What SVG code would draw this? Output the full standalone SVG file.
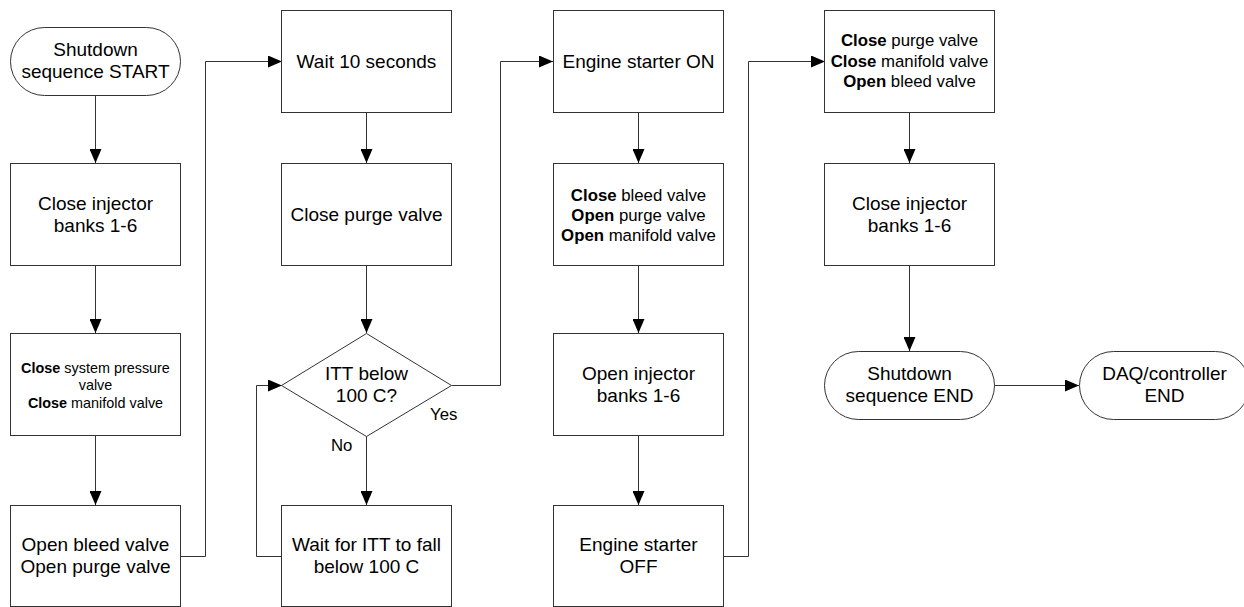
<svg xmlns="http://www.w3.org/2000/svg" width="1244" height="607" viewBox="0 0 1244 607">
  <style>
    .box { fill: #ffffff; stroke: #333333; stroke-width: 1; }
    .wire { fill: none; stroke: #333333; stroke-width: 1; marker-end: url(#arrow); }
    .t { font-family: "Liberation Sans", Arial, sans-serif; fill: #000000; text-anchor: middle; }
    .big { font-size: 19px; }
    .mid { font-size: 16.8px; }
    .small { font-size: 14.4px; }
    .lbl { font-size: 16.8px; font-family: "Liberation Sans", Arial, sans-serif; fill: #000000; }
    .b { font-weight: bold; }
  </style>
  <defs>
    <marker id="arrow" markerUnits="userSpaceOnUse" markerWidth="14" markerHeight="12" refX="14" refY="6" orient="auto">
      <path d="M0,0 L14,6 L0,12 Z" fill="#000000"/>
    </marker>
  </defs>
  <rect width="1244" height="607" fill="#ffffff"/>

  <!-- connectors -->
  <g id="connectors">
    <path class="wire" d="M95.5,95 V163"/>
    <path class="wire" d="M95.5,266 V333"/>
    <path class="wire" d="M95.5,436 V505"/>
    <path class="wire" d="M180,556.5 H205.5 V61.5 H282"/>
    <path class="wire" d="M366.5,112 V163"/>
    <path class="wire" d="M366.5,266 V333"/>
    <path class="wire" d="M366.5,436 V505"/>
    <path class="wire" d="M282,556.5 H256.5 V385.5 H282"/>
    <path class="wire" d="M452,385.5 H500.5 V61.5 H553"/>
    <path class="wire" d="M638.5,112 V163"/>
    <path class="wire" d="M638.5,266 V333"/>
    <path class="wire" d="M638.5,436 V505"/>
    <path class="wire" d="M723,556.5 H748.5 V61.5 H825"/>
    <path class="wire" d="M909.5,112 V163"/>
    <path class="wire" d="M909.5,266 V351"/>
    <path class="wire" d="M994,385.5 H1079"/>
    <text class="lbl" x="430" y="420">Yes</text>
    <text class="lbl" x="331" y="451">No</text>
  </g>

  <!-- column 1 -->
  <g id="start">
    <rect class="box" x="10.5" y="27.5" width="170" height="68" rx="34" ry="34"/>
    <text class="t big" x="95.5" y="56">Shutdown</text>
    <text class="t big" x="95.5" y="78">sequence START</text>
  </g>
  <g id="close-injectors-1">
    <rect class="box" x="10.5" y="163.5" width="170" height="102"/>
    <text class="t big" x="95.5" y="209.5">Close injector</text>
    <text class="t big" x="95.5" y="231.5">banks 1-6</text>
  </g>
  <g id="close-system-pressure">
    <rect class="box" x="10.5" y="333.5" width="170" height="102"/>
    <text class="t small" x="95.5" y="372.5"><tspan class="b">Close</tspan> system pressure</text>
    <text class="t small" x="95.5" y="390">valve</text>
    <text class="t small" x="95.5" y="407.5"><tspan class="b">Close</tspan> manifold valve</text>
  </g>
  <g id="open-bleed-purge">
    <rect class="box" x="10.5" y="505.5" width="170" height="101"/>
    <text class="t big" x="95.5" y="551">Open bleed valve</text>
    <text class="t big" x="95.5" y="573">Open purge valve</text>
  </g>

  <!-- column 2 -->
  <g id="wait-10s">
    <rect class="box" x="281.5" y="10.5" width="170" height="102"/>
    <text class="t big" x="366.5" y="68">Wait 10 seconds</text>
  </g>
  <g id="close-purge">
    <rect class="box" x="281.5" y="163.5" width="170" height="102"/>
    <text class="t big" x="366.5" y="221">Close purge valve</text>
  </g>
  <g id="itt-check">
    <polygon class="box" points="366.5,333.5 451.5,385.5 366.5,436.5 281.5,385.5"/>
    <text class="t big" x="366.5" y="379.5">ITT below</text>
    <text class="t big" x="366.5" y="401.5">100 C?</text>
  </g>
  <g id="wait-itt">
    <rect class="box" x="281.5" y="505.5" width="170" height="101"/>
    <text class="t big" x="366.5" y="551">Wait for ITT to fall</text>
    <text class="t big" x="366.5" y="573">below 100 C</text>
  </g>

  <!-- column 3 -->
  <g id="starter-on">
    <rect class="box" x="553.5" y="10.5" width="170" height="102"/>
    <text class="t big" x="638.5" y="68">Engine starter ON</text>
  </g>
  <g id="valves-purge">
    <rect class="box" x="553.5" y="163.5" width="170" height="102"/>
    <text class="t mid" x="638.5" y="200.5"><tspan class="b">Close</tspan> bleed valve</text>
    <text class="t mid" x="638.5" y="220.5"><tspan class="b">Open</tspan> purge valve</text>
    <text class="t mid" x="638.5" y="240.5"><tspan class="b">Open</tspan> manifold valve</text>
  </g>
  <g id="open-injectors">
    <rect class="box" x="553.5" y="333.5" width="170" height="102"/>
    <text class="t big" x="638.5" y="379.5">Open injector</text>
    <text class="t big" x="638.5" y="401.5">banks 1-6</text>
  </g>
  <g id="starter-off">
    <rect class="box" x="553.5" y="505.5" width="170" height="101"/>
    <text class="t big" x="638.5" y="551">Engine starter</text>
    <text class="t big" x="638.5" y="573">OFF</text>
  </g>

  <!-- column 4 -->
  <g id="valves-final">
    <rect class="box" x="824.5" y="10.5" width="170" height="102"/>
    <text class="t mid" x="909.5" y="46"><tspan class="b">Close</tspan> purge valve</text>
    <text class="t mid" x="909.5" y="66.5"><tspan class="b">Close</tspan> manifold valve</text>
    <text class="t mid" x="909.5" y="87"><tspan class="b">Open</tspan> bleed valve</text>
  </g>
  <g id="close-injectors-2">
    <rect class="box" x="824.5" y="163.5" width="170" height="102"/>
    <text class="t big" x="909.5" y="209.5">Close injector</text>
    <text class="t big" x="909.5" y="231.5">banks 1-6</text>
  </g>
  <g id="shutdown-end">
    <rect class="box" x="824.5" y="351.5" width="170" height="68" rx="34" ry="34"/>
    <text class="t big" x="909.5" y="379.5">Shutdown</text>
    <text class="t big" x="909.5" y="401.5">sequence END</text>
  </g>
  <g id="daq-end">
    <rect class="box" x="1079.5" y="351.5" width="170" height="68" rx="34" ry="34"/>
    <text class="t big" x="1164.5" y="379.5">DAQ/controller</text>
    <text class="t big" x="1164.5" y="401.5">END</text>
  </g>
</svg>
